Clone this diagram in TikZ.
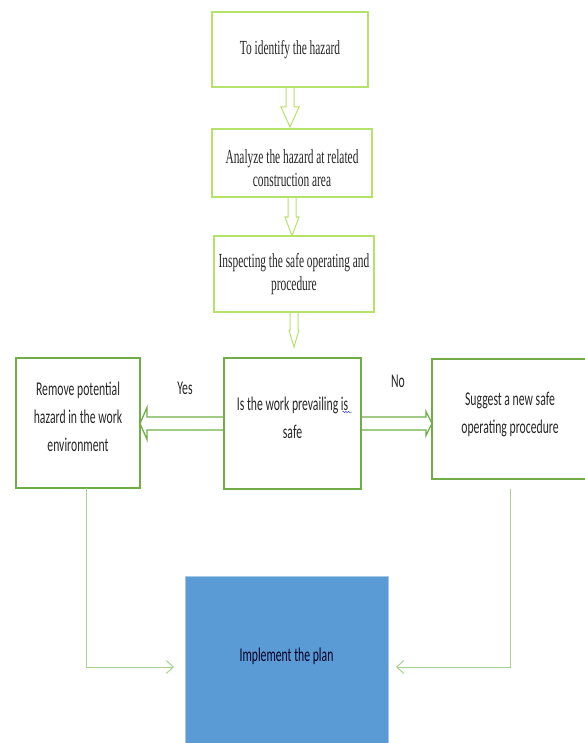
\documentclass[tikz,border=0pt]{standalone}
\usepackage{fontspec}
\newfontfamily\tnrfont[FakeStretch=0.57]{Liberation Serif}
\newfontfamily\calfont[FakeStretch=0.6]{Carlito}
\usepackage{xcolor}
\definecolor{LimeLine}{HTML}{B5E26A}
\definecolor{MidGreen}{HTML}{70AD47}
\definecolor{SoftGreen}{HTML}{A9D18E}
\definecolor{PlanBlue}{HTML}{5B9BD5}
\definecolor{TextGrey}{HTML}{262626}
\usepackage{tikz}
\usetikzlibrary{arrows.meta,calc,decorations.pathmorphing}

% invisible struts to nudge text up or down inside a fixed box
\newcommand\padbelow[1]{\rule[-#1]{0pt}{0pt}}
\newcommand\padabove[1]{\rule{0pt}{#1}}

\tikzset{
  stepbox/.style={draw=LimeLine, line width=1.1pt, inner sep=0pt, outer sep=0pt, align=center,
    text=TextGrey, font=\tnrfont\fontsize{20}{23}\selectfont},
  choicebox/.style={draw=MidGreen, line width=1.5pt, inner sep=0pt, outer sep=0pt, align=center,
    text=TextGrey, font=\calfont\fontsize{19.5}{28}\selectfont},
  planbox/.style={fill=PlanBlue, draw=PlanBlue!55, line width=0.6pt, inner sep=0pt, outer sep=0pt,
    text=black!85!blue, font=\calfont\fontsize{19.5}{28}\selectfont},
  tag/.style={text=TextGrey, font=\calfont\fontsize{19.5}{28}\selectfont},
  vblock/.style={draw=LimeLine, line width=1pt, line join=miter},
  hblock/.style={draw=MidGreen, line width=1.3pt, line join=miter},
  link/.style={draw=SoftGreen, line width=1pt, ->}
}

% hollow block arrow going down: from, to, gap, head length, head half width
\newcommand\downblock[5]{%
  \draw[vblock] let \p1=(#1.south), \p2=(#2.north) in
    ({\x1-4pt},\y1) -- ({\x1-4pt},{\y2+#3+#4}) -- ({\x1-#5},{\y2+#3+#4})
    -- (\x1,{\y2+#3}) -- ({\x1+#5},{\y2+#3+#4}) -- ({\x1+4pt},{\y2+#3+#4}) -- ({\x1+4pt},\y1);}
% hollow block arrow going sideways: from, to, signed head length, head half width
\newcommand\sideblock[4]{%
  \draw[hblock] let \p1=(#1), \p2=(#2) in
    (\x1,{\y1+6.5pt}) -- ({\x2+#3},{\y1+6.5pt}) -- ({\x2+#3},{\y1+#4})
    -- (\x2,\y1) -- ({\x2+#3},{\y1-#4}) -- ({\x2+#3},{\y1-6.5pt}) -- (\x1,{\y1-6.5pt});}

\begin{document}
\begin{tikzpicture}[x=1pt, y=-1pt, >={Straight Barb[length=7pt,width=13pt]}]
  \useasboundingbox (0,0) rectangle (584,743);

  % top chain
  \node[stepbox, minimum width=156pt, minimum height=75pt] (ident) at (290,49.5) {To identify the hazard};
  \node[stepbox, minimum width=160pt, minimum height=68pt] (analyse) at (292,163) {\padabove{25pt}Analyze the hazard at related\\construction area};
  \node[stepbox, minimum width=160pt, minimum height=76pt] (inspect) at (294,274) {Inspecting the safe operating and\\procedure};

  % decision row
  \node[choicebox, minimum width=124pt, minimum height=130pt] (remove) at (78,423) {Remove potential\\hazard in the work\\environment\padbelow{12pt}};
  \node[choicebox, minimum width=137pt, minimum height=131pt] (safe) at (292.5,423.5) {Is the work prevailing is\\safe\padbelow{12pt}};
  \node[choicebox, minimum width=156pt, minimum height=120pt] (suggest) at (510,419) {Suggest a new safe\\operating procedure\padbelow{13pt}};
  \node[tag] (yes) at (185,388) {Yes};
  \node[tag] (no) at (398,381) {No};

  \node[planbox, minimum width=203pt, minimum height=170pt] (plan) at (286.5,661) {Implement the plan\padbelow{12pt}};

  \downblock{ident}{analyse}{2pt}{20pt}{9pt}
  \downblock{analyse}{inspect}{0pt}{19pt}{7pt}
  \downblock{inspect}{safe}{11pt}{17pt}{5pt}
  \sideblock{safe.west}{remove.east}{7pt}{16pt}
  \sideblock{safe.east}{suggest.west}{-6pt}{12pt}

  % spelling squiggle under "is"
  \draw[blue!75, line width=0.5pt, decorate, decoration={snake, amplitude=0.7pt, segment length=2.6pt}]
    ([xshift=50pt,yshift=11.5pt]safe.center) -- ([xshift=59pt,yshift=11.5pt]safe.center);

  \draw[link] ([xshift=8pt]remove.south) |- ([xshift=-11pt,yshift=-6pt]plan.west);
  \draw[link] ([yshift=-10pt]suggest.south) |- ([xshift=8pt,yshift=-6pt]plan.east);
\end{tikzpicture}
\end{document}
